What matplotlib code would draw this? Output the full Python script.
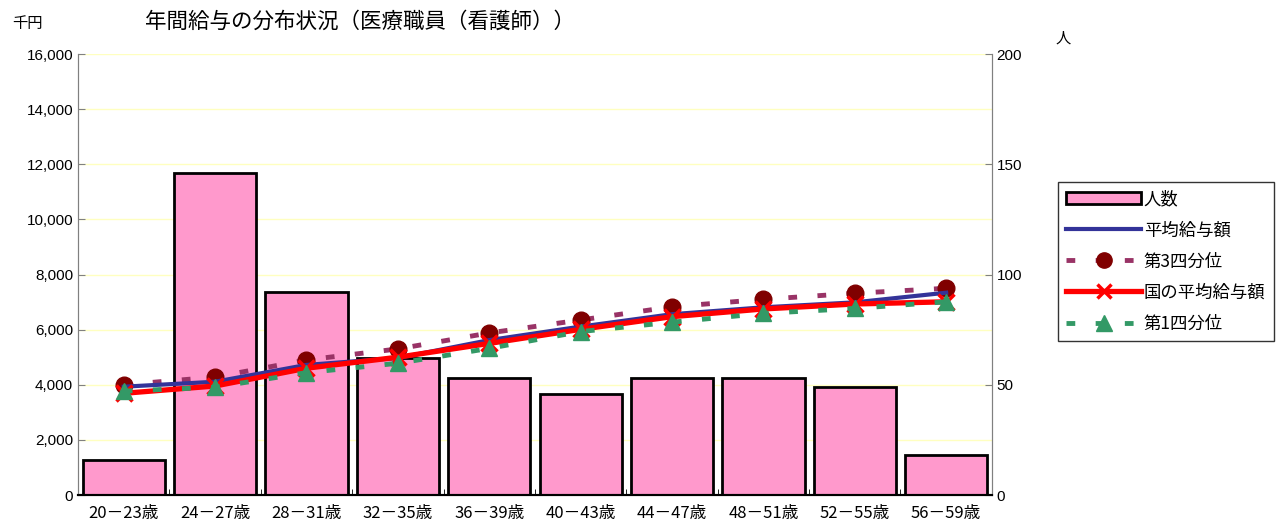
import matplotlib
matplotlib.use("Agg")
import matplotlib.pyplot as plt
import numpy as np
from matplotlib.lines import Line2D
from matplotlib.patches import Patch

plt.rcParams['font.family'] = ['Noto Sans CJK JP', 'DejaVu Sans']

categories = ["20－23歳", "24－27歳", "28－31歳", "32－35歳", "36－39歳",
              "40－43歳", "44－47歳", "48－51歳", "52－55歳", "56－59歳"]
headcount = [16, 146, 92, 62, 53, 46, 53, 53, 49, 18]
avg_salary = [3930, 4110, 4720, 4970, 5620, 6110, 6560, 6810, 6990, 7340]
q3_salary = [4000, 4280, 4900, 5300, 5880, 6350, 6830, 7100, 7320, 7500]
nat_avg_salary = [3690, 3955, 4600, 5000, 5500, 6010, 6470, 6750, 6930, 7010]
q1_salary = [3770, 3910, 4440, 4780, 5320, 5930, 6270, 6590, 6770, 7010]

left_ticks = [0, 2000, 4000, 6000, 8000, 10000, 12000, 14000, 16000]
right_ticks = [0, 50, 100, 150, 200]

fig = plt.figure(figsize=(12.79, 5.27), dpi=100)
ax = fig.add_axes([0.061, 0.0607, 0.7145, 0.8368])
ax2 = ax.twinx()

x = np.arange(len(categories))

ax2.set_zorder(1)
ax.set_zorder(2)
ax.patch.set_visible(False)
ax2.bar(x, headcount, width=0.9, color='#FF99CC', edgecolor='black', linewidth=2, zorder=2)
ax2.set_ylim(0, 200)
ax2.set_yticks(right_ticks)
ax2.set_yticklabels([str(v) for v in right_ticks], fontsize=11, family=['Liberation Sans', 'DejaVu Sans'])

ax.set_ylim(0, 16000)
ax.set_xlim(-0.5, len(categories) - 0.5)
ax.set_yticks(left_ticks)
ax.set_yticklabels([f"{v:,}" for v in left_ticks], fontsize=11, family=['Liberation Sans', 'DejaVu Sans'])

for v in [25, 50, 75, 100, 125, 150, 175, 200]:
    ax2.axhline(v, color='#FFFFC0', linewidth=1, zorder=0)

dash = (0, (1.8, 4.2))
ax.plot(x, q3_salary, color='#993366', linestyle=dash, linewidth=3.5,
        marker='o', markersize=12, markerfacecolor='#800000', markeredgecolor='#800000', zorder=3)
ax.plot(x, avg_salary, color='#333399', linewidth=3, zorder=4)
ax.plot(x, nat_avg_salary, color='#FF0000', linewidth=3.8, marker='x', markersize=12,
        markeredgewidth=2.5, markeredgecolor='#FF0000', zorder=5)
ax.plot(x, q1_salary, color='#339966', linestyle=dash, linewidth=3.5,
        marker='^', markersize=12, markerfacecolor='#339966', markeredgecolor='#339966', zorder=6)

ax.set_xticks(x)
ax.set_xticklabels(categories, fontsize=12)
ax.set_xticks(np.arange(-0.5, len(categories), 1), minor=True)
ax.tick_params(axis='x', which='major', length=0, pad=7)
ax.tick_params(axis='x', which='minor', length=4, direction='in', color='black')
ax.tick_params(axis='y', direction='in', length=5, color='#808080')
ax2.tick_params(axis='y', direction='in', length=5, color='#808080')

for a in (ax, ax2):
    a.spines['top'].set_visible(False)
    a.spines['left'].set_color('#808080')
    a.spines['right'].set_color('#808080')
    a.spines['bottom'].set_color('black')
    a.spines['bottom'].set_linewidth(1.5)

fig.text(0.0094, 0.955, "千円", fontsize=11, ha='left', va='center')
fig.text(0.113, 0.958, "年間給与の分布状況（医療職員（看護師））", fontsize=15.5, ha='left', va='center')
fig.text(0.825, 0.928, "人", fontsize=11, ha='left', va='center')

handles = [
    Patch(facecolor='#FF99CC', edgecolor='black', linewidth=2),
    Line2D([], [], color='#333399', linewidth=3),
    Line2D([], [], color='#993366', linestyle=dash, linewidth=3.5, marker='o', markersize=11,
           markerfacecolor='#800000', markeredgecolor='#800000'),
    Line2D([], [], color='#FF0000', linewidth=3.8, marker='x', markersize=10, markeredgewidth=2.5),
    Line2D([], [], color='#339966', linestyle=dash, linewidth=3.5, marker='^', markersize=11,
           markerfacecolor='#339966', markeredgecolor='#339966'),
]
labels = ["人数", "平均給与額", "第3四分位", "国の平均給与額", "第1四分位"]
leg = fig.legend(handles, labels, loc='upper left', bbox_to_anchor=(0.827, 0.655),
                 fontsize=12.5, frameon=True, fancybox=False, edgecolor='black',
                 handlelength=4.3, handletextpad=0.15, borderpad=0.5, labelspacing=0.75,
                 borderaxespad=0)
leg.get_frame().set_linewidth(1)

fig.savefig("out.png", dpi=100)
